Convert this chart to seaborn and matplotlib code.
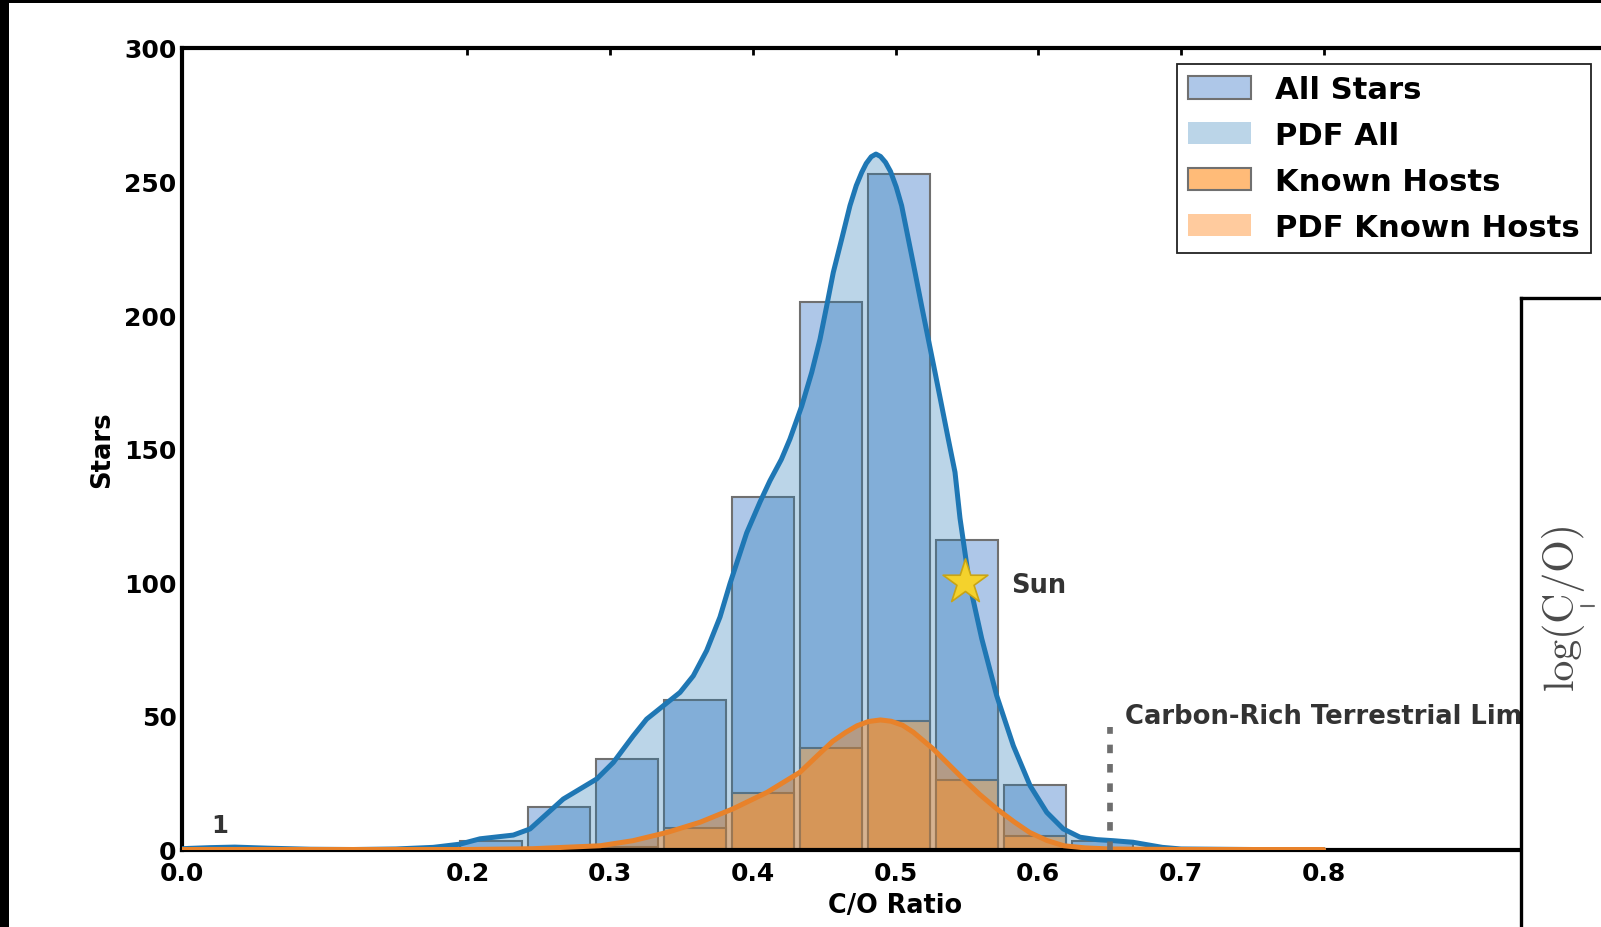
import matplotlib
matplotlib.use("Agg")
import matplotlib.pyplot as plt
import seaborn as sns
from matplotlib.patches import Patch, Rectangle
from matplotlib.lines import Line2D

# ---------------- data ----------------
bin_edges = [0.0025, 0.0501, 0.0977, 0.1453, 0.1929, 0.2405, 0.2881, 0.3357,
             0.3833, 0.4309, 0.4785, 0.5261, 0.5737, 0.6213, 0.6689]
bin_centers = [0.0263, 0.0739, 0.1215, 0.1691, 0.2167, 0.2643, 0.3119, 0.3595,
               0.4071, 0.4547, 0.5023, 0.5499, 0.5975, 0.6451]
all_counts = [1, 0, 0, 0, 3, 16, 34, 56, 132, 205, 253, 116, 24, 3]
host_counts = [0, 0, 0, 0, 0, 0, 1, 8, 21, 38, 48, 26, 5, 0]

pdf_all_x = [0.0, 0.02, 0.037, 0.06, 0.09, 0.12, 0.15, 0.176, 0.1948, 0.2088,
             0.2322, 0.2439, 0.2672, 0.2906, 0.3023, 0.3163, 0.3256, 0.3373,
             0.349, 0.3583, 0.3677, 0.377, 0.384, 0.3957, 0.405, 0.412, 0.420,
             0.426, 0.4343, 0.4413, 0.4471, 0.4518, 0.4564, 0.4623, 0.4681,
             0.4725, 0.4763, 0.4795, 0.483, 0.4863, 0.4895, 0.493, 0.4965,
             0.5005, 0.5043, 0.509, 0.5137, 0.5183, 0.523, 0.5277, 0.5324,
             0.537, 0.5417, 0.5452, 0.5517, 0.5604, 0.5709, 0.5826, 0.5943,
             0.606, 0.6176, 0.6293, 0.641, 0.6526, 0.6665, 0.687, 0.70, 0.75, 0.80]
pdf_all_y = [0.3, 0.7, 0.9, 0.5, 0.1, 0.0, 0.2, 0.8, 2.0, 4.0,
             5.4, 7.7, 18.9, 26.4, 32.6, 42.6, 48.8, 53.8,
             58.8, 65.0, 74.5, 87.0, 99.5, 118.5, 130.0, 138.0, 146.0,
             153.6, 166.0, 178.6, 191.0, 203.5, 216.0, 228.5, 241.0,
             248.5, 253.4, 256.8, 259.3, 260.3, 259.4, 257.2, 253.8,
             248.0, 241.0, 228.5, 216.0, 203.5, 191.0, 178.6, 166.0,
             153.6, 141.2, 124.0, 100.0, 79.0, 57.6, 38.8, 23.9,
             13.9, 7.7, 4.6, 3.7, 3.3, 2.7, 0.8, 0.2, 0.0, 0.0]

pdf_host_x = [0.0, 0.10, 0.20, 0.246, 0.293, 0.316, 0.340, 0.363, 0.386,
              0.410, 0.433, 0.445, 0.456, 0.465, 0.473, 0.481, 0.4895, 0.497,
              0.505, 0.5125, 0.5265, 0.537, 0.5475, 0.559, 0.571, 0.583,
              0.594, 0.606, 0.618, 0.633, 0.65, 0.70, 0.80]
pdf_host_y = [0.0, 0.0, 0.0, 0.3, 1.4, 3.3, 6.4, 10.2, 15.2,
              21.4, 28.9, 35.0, 40.5, 43.8, 46.3, 47.9, 48.5, 48.0,
              46.5, 43.9, 37.6, 32.0, 26.4, 20.6, 15.2, 10.4,
              6.4, 3.4, 1.4, 0.6, 0.2, 0.0, 0.0]

x_ticks = [0.0, 0.2, 0.3, 0.4, 0.5, 0.6, 0.7, 0.8]
y_ticks = [0, 50, 100, 150, 200, 250, 300]
sun_co, sun_y = 0.549, 100
carbon_limit, carbon_limit_top = 0.65, 46
legend_labels = ["All Stars", "PDF All", "Known Hosts", "PDF Known Hosts"]

# ---------------- style ----------------
sns.set_theme(style="white")
plt.rcParams['font.family'] = ['DejaVu Sans']
plt.rcParams['font.weight'] = 'bold'
plt.rcParams['axes.labelweight'] = 'bold'
plt.rcParams['text.color'] = 'black'
plt.rcParams['axes.labelcolor'] = 'black'

W, H = 1601, 928
fig = plt.figure(figsize=(W / 100, H / 100), dpi=100, facecolor='black')
fig.add_artist(Rectangle((9 / W, 0), 1, 1 - 4 / H, transform=fig.transFigure,
                         facecolor='white', edgecolor='none', zorder=-10))

ax = fig.add_axes([182 / W, (H - 850.5) / H, 1427 / W, (850.5 - 49) / H])
ax.set_facecolor('white')

bar_blue, bar_orange = '#aec7e8', '#ffbb78'
line_blue, line_orange = '#1f77b4', '#ff7f0e'
edge = '#707070'

sns.histplot(x=bin_centers, weights=all_counts, bins=bin_edges, shrink=0.91,
             color=bar_blue, alpha=1.0, edgecolor=edge, linewidth=1.5, ax=ax, zorder=1)
sns.histplot(x=bin_centers, weights=host_counts, bins=bin_edges, shrink=0.91,
             color=bar_orange, alpha=1.0, edgecolor=edge, linewidth=1.5, ax=ax, zorder=1)

ax.fill_between(pdf_all_x, pdf_all_y, color=line_blue, alpha=0.3, lw=0, zorder=1.5)
ax.fill_between(pdf_host_x, pdf_host_y, color=line_orange, alpha=0.4, lw=0, zorder=1.6)

sns.lineplot(x=pdf_all_x, y=pdf_all_y, color=line_blue, lw=3.6, ax=ax, zorder=3)
sns.lineplot(x=pdf_host_x, y=pdf_host_y, color='#e8822a', lw=3.6, ax=ax, zorder=3)
for ln in ax.lines:
    ln.set_solid_joinstyle('round')
    ln.set_solid_capstyle('round')

ax.vlines(carbon_limit, 0, carbon_limit_top, colors='#6e6e6e',
          linestyles=(0, (1.5, 1.9)), lw=4.1, zorder=3)
ax.text(0.661, 50, "Carbon-Rich Terrestrial Limit", fontsize=18.6,
        fontweight='bold', color='#333333', ha='left', va='center', zorder=4)

sns.scatterplot(x=[sun_co], y=[sun_y], marker='*', s=1150, color='#f4d22c',
                edgecolor='#c9a415', linewidth=1.2, ax=ax, zorder=5)
ax.text(0.581, 99, "Sun", fontsize=18.5, fontweight='bold', color='#333333',
        ha='left', va='center', zorder=5)
ax.text(bin_centers[0], 9, "1", fontsize=17.5, fontweight='bold', color='#333333',
        ha='center', va='center', zorder=5)

ax.set_xlim(0, 1.0)
ax.set_ylim(0, 300)
ax.set_xticks(x_ticks)
ax.set_xticklabels([f"{v:.1f}" for v in x_ticks])
ax.set_yticks(y_ticks)
ax.set_yticklabels([str(v) for v in y_ticks])
ax.tick_params(axis='both', direction='in', length=5, width=2, top=True,
               right=False, labelsize=18, colors='black')
ax.tick_params(axis='x', pad=8)
ax.tick_params(axis='y', pad=4)
for s in ax.spines.values():
    s.set_linewidth(3)
    s.set_color('black')

ax.set_xlabel("C/O Ratio", fontsize=18.4, fontweight='bold', labelpad=5.5, color='black')
ax.set_ylabel("Stars", fontsize=18.6, fontweight='bold', labelpad=6.5, color='black')

handles = [Patch(facecolor=bar_blue, edgecolor=edge, lw=1.5),
           Patch(facecolor=line_blue, alpha=0.3, lw=0),
           Patch(facecolor=bar_orange, edgecolor=edge, lw=1.5),
           Patch(facecolor=line_orange, alpha=0.4, lw=0)]
leg = ax.legend(handles, legend_labels, loc='upper left',
                bbox_to_anchor=(1177 / W, 1 - 65 / H), bbox_transform=fig.transFigure,
                borderaxespad=0, prop={'weight': 'bold', 'size': 22.1},
                frameon=True, fancybox=False, edgecolor='#222222',
                handlelength=2.05, handleheight=0.75, handletextpad=0.78,
                labelspacing=0.55, borderpad=0.36, framealpha=1, labelcolor='black')
leg.get_frame().set_linewidth(1.3)

# cropped inset on the right
axin = fig.add_axes([1521 / W, -0.1, 0.2, (H - 298.5) / H + 0.1])
axin.set_facecolor('white')
axin.set_xticks([])
axin.set_yticks([])
for s in axin.spines.values():
    s.set_linewidth(2.4)
    s.set_color('black')
fig.text(1562 / W, 1 - 606 / H, "log(C/O)", rotation=90, family='cmr10',
         fontweight='normal', fontsize=30, color='#4a4a4a', ha='center', va='center')
fig.add_artist(Line2D([1581 / W, 1594 / W], [1 - 607 / H, 1 - 607 / H],
                      transform=fig.transFigure, color='#666666', lw=1.5))

fig.savefig("out.png", dpi=100, facecolor=fig.get_facecolor())
